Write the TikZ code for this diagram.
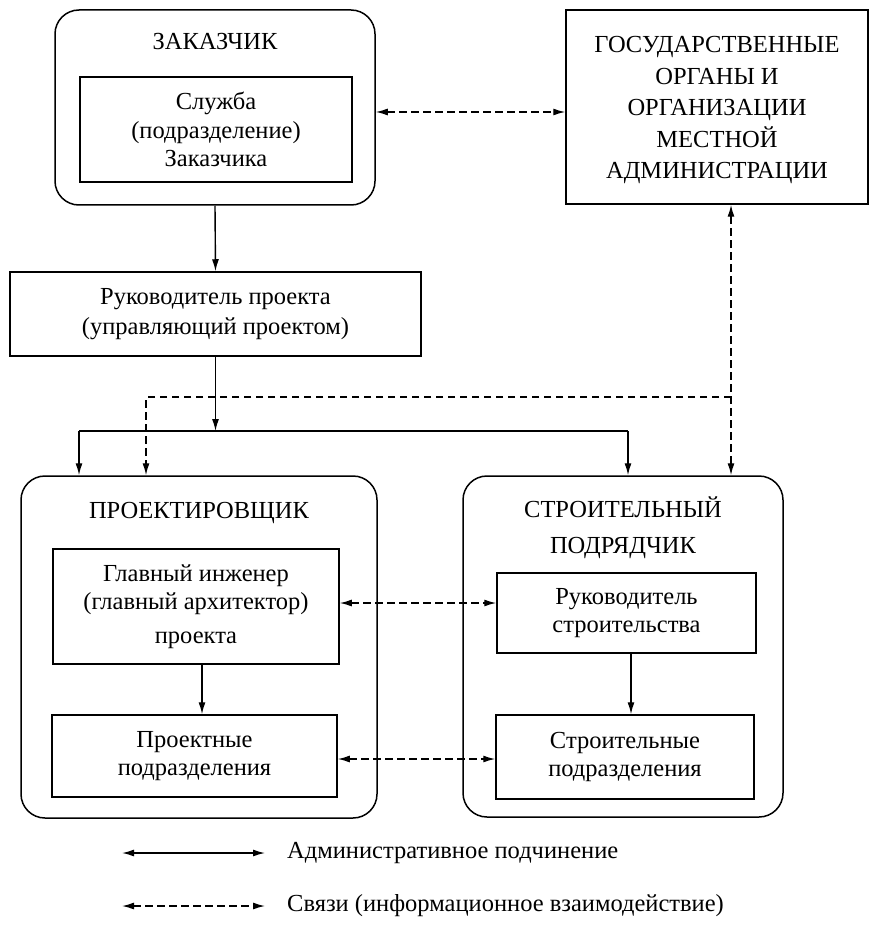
\documentclass[tikz,border=0pt]{standalone}
\usepackage{fontspec}
\setmainfont{Liberation Serif}
\usetikzlibrary{arrows.meta}
\begin{document}
\begin{tikzpicture}[x=1pt,y=-1pt,
  txt/.style={font=\fontsize{24.5}{28.5}\selectfont,align=center,inner sep=0pt},
  outerbox/.style={draw,line width=1.5pt,rounded corners=24pt,inner sep=0pt,minimum width=#1},
  innerbox/.style={draw,line width=1.5pt,txt,minimum width=#1},
  line/.style={line width=1.4pt},
  adm/.style={line,-{Latex[length=12pt,width=7pt]}},
  inf/.style={line,dash pattern=on 7.5pt off 4.5pt},
  infbi/.style={inf,{Latex[length=12pt,width=7pt]}-{Latex[length=12pt,width=7pt]}},
  infone/.style={inf,-{Latex[length=12pt,width=7pt]}}
]
\useasboundingbox (0,0) rectangle (871,925);

% ---- Заказчик
\node[outerbox=320, minimum height=195] (zak) at (215,107.5) {};
\node[txt] (zakt) at (215,42) {ЗАКАЗЧИК};
\node[innerbox=272, minimum height=105] (sluz) at (216,129.5) {Служба\\(подразделение)\\Заказчика};

% ---- Государственные органы
\node[draw,line width=1.5pt,inner sep=0pt,minimum width=302,minimum height=194] (gov) at (717,107) {};
\node[txt] (govt) at (717,110)
  {ГОСУДАРСТВЕННЫЕ\\[3pt]ОРГАНЫ И\\[3pt]ОРГАНИЗАЦИИ\\[3pt]МЕСТНОЙ\\[3pt]АДМИНИСТРАЦИИ};

% ---- Руководитель проекта
\node[innerbox=411, minimum height=84] (ruk) at (215.5,314) {Руководитель проекта\\[1.5pt](управляющий проектом)};

% ---- Проектировщик
\node[outerbox=356, minimum height=342] (proj) at (199,647) {};
\node[txt] (projt) at (199,513) {ПРОЕКТИРОВЩИК};
\node[innerbox=286, minimum height=115] (glav) at (196,606.5) {Главный инженер\\(главный архитектор)\\[5pt]проекта};
\node[innerbox=285, minimum height=82] (prpod) at (194.5,756) {Проектные\\подразделения};

% ---- Строительный подрядчик
\node[outerbox=320, minimum height=341] (str) at (623,646.5) {};
\node[txt] (strt) at (623,528) {СТРОИТЕЛЬНЫЙ\\[7.5pt]ПОДРЯДЧИК};
\node[innerbox=259, minimum height=80] (rukstr) at (626.5,613) {Руководитель\\строительства};
\node[innerbox=258, minimum height=84] (strpod) at (625,757) {Строительные\\подразделения};

% ---- административное подчинение
\coordinate (busL) at (79,431);
\coordinate (busR) at (628,431);
\draw[adm] (zak.south) -- (ruk.north);
\draw[adm] (ruk.south) -- (ruk.south |- busL);
\draw[line] (busL) -- (busR);
\draw[adm] (busL) -- (busL |- proj.north);
\draw[adm] (busR) -- (busR |- str.north);
\draw[adm] ([xshift=6pt]glav.south) -- ([xshift=6pt]glav.south |- prpod.north);
\draw[adm] ([xshift=4.5pt]rukstr.south) -- ([xshift=4.5pt]rukstr.south |- strpod.north);

% ---- связи
\coordinate (zy) at (0,112);
\draw[infbi] (zak.east |- zy) -- (gov.west |- zy);
\coordinate (dv) at (731,397);
\coordinate (dl) at (146,397);
\draw[infbi] (gov.south -| dv) -- (str.north -| dv);
\draw[infone] (dv) -- (dl) -- (dl |- proj.north);
\coordinate (g1) at (0,603);
\draw[infbi] (glav.east |- g1) -- (rukstr.west |- g1);
\coordinate (g2) at (0,759);
\draw[infbi] (prpod.east |- g2) -- (strpod.west |- g2);

% ---- легенда
\coordinate (la1) at (122,853);
\coordinate (lb1) at (265,853);
\coordinate (la2) at (122,906);
\coordinate (lb2) at (265,906);
\draw[line,{Latex[length=12pt,width=7pt]}-{Latex[length=12pt,width=7pt]}] (la1) -- (lb1);
\draw[infbi] (la2) -- (lb2);
\node[txt,anchor=west] (lt1) at (287,853) {Административное подчинение};
\node[txt,anchor=west] (lt2) at (287,906) {Связи (информационное взаимодействие)};
\end{tikzpicture}
\end{document}
